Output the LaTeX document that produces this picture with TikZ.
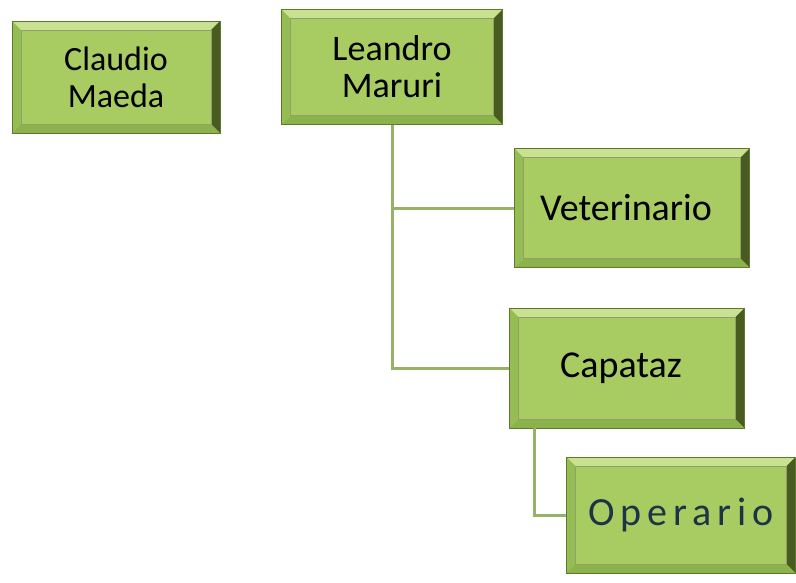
\documentclass[tikz,border=0pt]{standalone}
\usepackage{fontspec}
\setmainfont{Carlito}
\newfontfamily\espaciada[LetterSpace=15]{Carlito}
\definecolor{caraverde}{RGB}{168,204,98}
\definecolor{bordeclaro}{RGB}{200,226,146}
\definecolor{bordeoscuro}{RGB}{72,92,34}
\definecolor{bordemedio}{RGB}{140,178,76}
\definecolor{bordeizq}{RGB}{150,188,84}
\definecolor{bordeverde}{RGB}{95,120,45}
\definecolor{lineaverde}{RGB}{150,178,104}
\definecolor{textoazul}{RGB}{28,52,70}
\tikzset{
    puesto/.style={draw=bordeverde, line width=0.8pt, fill=caraverde,
        align=center, text=black, font=\fontsize{34}{37}\selectfont,
        inner sep=0pt,
        path picture={
            \path (path picture bounding box.north west) coordinate (nw)
                  (path picture bounding box.north east) coordinate (ne)
                  (path picture bounding box.south east) coordinate (se)
                  (path picture bounding box.south west) coordinate (sw);
            \fill[bordeclaro]  (nw) -- (ne) -- ([shift={(-9pt,-9pt)}]ne) -- ([shift={(9pt,-9pt)}]nw) -- cycle;
            \fill[bordeoscuro] (ne) -- (se) -- ([shift={(-9pt,9pt)}]se) -- ([shift={(-9pt,-9pt)}]ne) -- cycle;
            \fill[bordemedio]  (se) -- (sw) -- ([shift={(9pt,9pt)}]sw) -- ([shift={(-9pt,9pt)}]se) -- cycle;
            \fill[bordeizq]    (sw) -- (nw) -- ([shift={(9pt,-9pt)}]nw) -- ([shift={(9pt,9pt)}]sw) -- cycle;
            \draw[bordeverde!70, line width=0.6pt] ([shift={(9pt,-9pt)}]nw) rectangle ([shift={(-9pt,9pt)}]se);
        }},
    enlace/.style={draw=lineaverde, line width=3pt}
}
\begin{document}
\begin{tikzpicture}[x=1pt,y=1pt]
    \useasboundingbox (0,0) rectangle (796,-582);

    \node[puesto, minimum width=208, minimum height=112] (claudio)  at (116,-77)  {Claudio\\Maeda\hspace*{0pt}};
    \node[puesto, minimum width=221, minimum height=115,
          font=\fontsize{36}{37}\selectfont] (leandro)  at (392,-67)  {Leandro\\Maruri};
    \node[puesto, minimum width=235, minimum height=119,
          font=\fontsize{38}{40}\selectfont] (veterinario) at (632,-208) {Veterinario\hspace*{12pt}};
    \node[puesto, minimum width=235, minimum height=120,
          font=\fontsize{38}{40}\selectfont] (capataz)  at (627,-368) {Capataz\hspace*{12pt}};
    \node[puesto, minimum width=229, minimum height=116, text=textoazul,
          font=\fontsize{40}{42}\espaciada] (operario) at (681,-515) {Operario};

    % lineas de mando
    \draw[enlace] (leandro.south) |- (veterinario.west);
    \draw[enlace] (leandro.south) |- (capataz.west);
    \draw[enlace] ([xshift=25pt]capataz.south west) |- (operario.west);

\end{tikzpicture}
\end{document}
